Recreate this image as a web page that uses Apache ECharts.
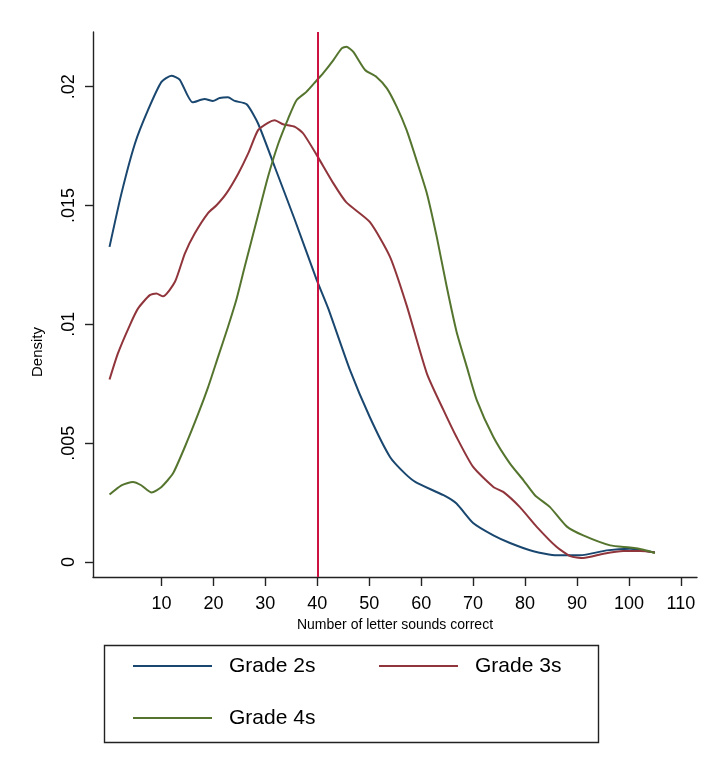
<!DOCTYPE html>
<html>
<head>
<meta charset="utf-8">
<script src="https://cdn.jsdelivr.net/npm/echarts@6/dist/echarts.min.js"></script>
<style>
html,body{margin:0;padding:0;background:#fff;}
#chart{width:712px;height:771px;}
</style>
</head>
<body>
<div id="chart"></div>
<script>
// ---- data ----
var seriesNames = ['Grade 2s', 'Grade 3s', 'Grade 4s'];

var grade2X = [0, 2.3, 4.9, 7.4, 10.0, 11.9, 13.5, 16.0, 18.3, 19.9, 21.2, 22.8, 24.1, 26.4, 28.6, 31.8, 35.7, 39.9, 42.1, 46.3, 50.1, 54.0, 56.9, 59.1, 64.3, 66.8, 70.0, 73.9, 77.1, 81.6, 86.1, 90.6, 95.7, 100.2, 105];
var grade2Y = [0.01326, 0.01551, 0.01761, 0.01901, 0.0202, 0.02046, 0.0203, 0.01934, 0.01948, 0.0194, 0.01952, 0.01955, 0.0194, 0.01926, 0.01845, 0.01663, 0.01438, 0.01186, 0.01067, 0.00807, 0.0061, 0.00442, 0.00372, 0.00334, 0.00281, 0.00246, 0.00164, 0.00112, 0.0008, 0.00045, 0.00028, 0.00028, 0.00049, 0.00056, 0.0004];

var grade3X = [0, 1.6, 3.9, 5.5, 7.75, 9.0, 10.3, 12.6, 14.5, 16.4, 19.0, 20.6, 22.5, 24.8, 26.7, 28.6, 30.5, 31.8, 33.4, 35.7, 37.3, 39.9, 43.1, 45.6, 50.1, 54.0, 57.2, 61.1, 64.3, 66.8, 70.0, 73.9, 75.8, 79.0, 82.3, 86.1, 88.7, 91.2, 95.1, 98.9, 102.2, 105];
var grade3Y = [0.00768, 0.00877, 0.00996, 0.01067, 0.01123, 0.0113, 0.01118, 0.01179, 0.01298, 0.01382, 0.01469, 0.01501, 0.01551, 0.01635, 0.01719, 0.01817, 0.01848, 0.01859, 0.01842, 0.01831, 0.01803, 0.01712, 0.01593, 0.01513, 0.01431, 0.01284, 0.0108, 0.00793, 0.00639, 0.00526, 0.004, 0.00316, 0.00295, 0.00231, 0.00147, 0.00063, 0.00025, 0.00017, 0.00035, 0.00046, 0.00046, 0.0004];

var grade4X = [0, 2.3, 4.5, 6.1, 8.1, 10.0, 12.2, 14.5, 17.1, 19.0, 20.9, 22.8, 24.5, 26.0, 28.6, 30.5, 32.5, 34.4, 36.0, 37.9, 39.9, 41.1, 43.1, 44.7, 45.6, 46.9, 49.2, 51.4, 53.4, 55.3, 57.2, 59.1, 61.1, 63.0, 64.9, 66.8, 68.8, 70.7, 73.9, 77.1, 79.7, 81.9, 84.8, 88.0, 91.2, 96.4, 100.2, 102.8, 105];
var grade4Y = [0.00284, 0.00323, 0.00337, 0.00323, 0.00292, 0.00316, 0.00372, 0.00484, 0.00625, 0.00737, 0.00863, 0.00989, 0.0111, 0.0124, 0.0146, 0.0162, 0.01761, 0.01866, 0.01943, 0.01978, 0.02027, 0.02056, 0.02112, 0.02161, 0.02168, 0.02147, 0.0207, 0.02041, 0.01993, 0.01915, 0.01817, 0.01691, 0.01551, 0.01368, 0.0116, 0.0097, 0.0082, 0.00681, 0.00526, 0.00414, 0.00344, 0.00281, 0.00231, 0.0015, 0.00112, 0.0007, 0.00061, 0.00052, 0.00038];

var xTicks = [10, 20, 30, 40, 50, 60, 70, 80, 90, 100, 110];
var yTicks = [0, 0.005, 0.01, 0.015, 0.02];
var yTickLabels = ['0', '.005', '.01', '.015', '.02'];
var refLineX = 40;

var xTitle = 'Number of letter sounds correct';
var yTitle = 'Density';

// ---- build ----
function zip(xs, ys) { return xs.map(function (x, i) { return [x, ys[i]]; }); }
var colors = ['#1a476f', '#90353b', '#55752f'];
var font = '"Liberation Sans", Arial, Helvetica, sans-serif';

var chart = echarts.init(document.getElementById('chart'), null, {renderer: 'canvas'});

function mkLegend(name, left, top) {
  return {
    data: [name], left: left, top: top, orient: 'horizontal', padding: 0,
    icon: 'rect', itemWidth: 79, itemHeight: 2,
    selectedMode: false,
    textStyle: {fontFamily: font, fontSize: 21, color: '#000', lineHeight: 24, padding: [0, 0, 0, 12]}
  };
}

var axisLineStyle = {color: '#222', width: 1.4};

var option = {
  backgroundColor: '#fff',
  animation: false,
  color: colors,
  grid: {left: 93, top: 32, width: 604, height: 545, containLabel: false},
  xAxis: {
    type: 'value', min: -3.18, max: 113.1,
    splitLine: {show: false},
    axisLine: {show: true, lineStyle: axisLineStyle, onZero: false},
    axisTick: {show: true, length: 9, lineStyle: axisLineStyle, customValues: xTicks},
    axisLabel: {show: true, margin: 18, fontSize: 18, color: '#000', fontFamily: font, customValues: xTicks,
      formatter: function (v) { return String(Math.round(v)); }},
    name: xTitle, nameLocation: 'middle', nameGap: 37,
    nameTextStyle: {fontFamily: font, fontSize: 14, color: '#000'}
  },
  yAxis: {
    type: 'value', min: -0.00063, max: 0.0223,
    splitLine: {show: false},
    axisLine: {show: true, lineStyle: axisLineStyle, onZero: false},
    axisTick: {show: true, length: 8, lineStyle: axisLineStyle, customValues: yTicks},
    axisLabel: {show: true, margin: 15, fontSize: 18, color: '#000', fontFamily: font, rotate: 90, customValues: yTicks,
      formatter: function (v) {
        for (var i = 0; i < yTicks.length; i++) { if (Math.abs(v - yTicks[i]) < 1e-7) return yTickLabels[i]; }
        return '';
      }}
  },
  legend: [
    mkLegend(seriesNames[0], 133, 654),
    mkLegend(seriesNames[1], 379, 654),
    mkLegend(seriesNames[2], 133, 706)
  ],
  graphic: [
    {type: 'rect', left: 102, top: 643, shape: {width: 494, height: 97},
      style: {fill: 'none', stroke: '#222', lineWidth: 1.4}, silent: true},
    {type: 'text', x: 38, y: 352, rotation: Math.PI / 2,
      style: {text: yTitle, fontFamily: font, fontSize: 15, fill: '#000', align: 'center', verticalAlign: 'middle'}}
  ],
  series: [
    {name: seriesNames[0], type: 'line', data: zip(grade2X, grade2Y), showSymbol: false, symbol: 'none', smooth: 0.2,
      lineStyle: {width: 2, color: colors[0]}, itemStyle: {color: colors[0]}, z: 3,
      markLine: {silent: true, symbol: 'none', label: {show: false},
        lineStyle: {color: '#cc1240', width: 2, type: 'solid'},
        data: [{xAxis: refLineX}]}},
    {name: seriesNames[1], type: 'line', data: zip(grade3X, grade3Y), showSymbol: false, symbol: 'none', smooth: 0.2,
      lineStyle: {width: 2, color: colors[1]}, itemStyle: {color: colors[1]}, z: 3},
    {name: seriesNames[2], type: 'line', data: zip(grade4X, grade4Y), showSymbol: false, symbol: 'none', smooth: 0.2,
      lineStyle: {width: 2, color: colors[2]}, itemStyle: {color: colors[2]}, z: 3}
  ]
};
chart.setOption(option);
</script>
</body>
</html>
